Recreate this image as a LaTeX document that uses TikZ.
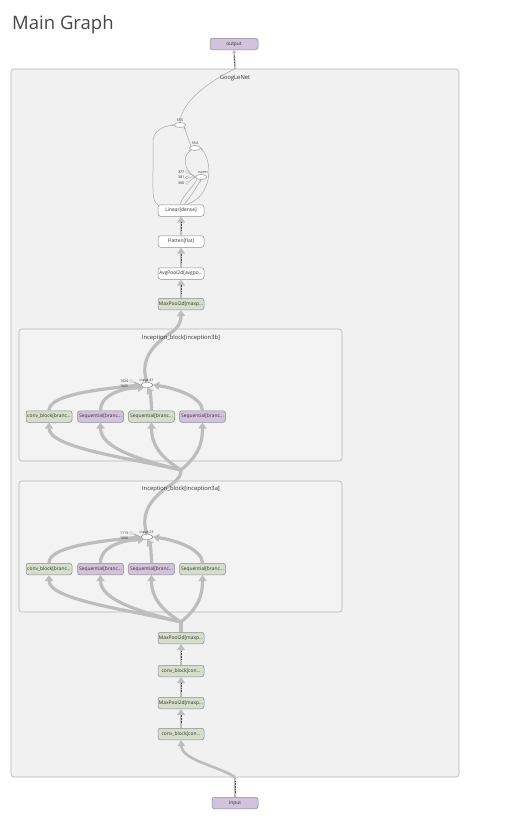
\documentclass[tikz,border=0pt]{standalone}
\usepackage{fontspec}
\setmainfont{Open Sans}
\usetikzlibrary{arrows.meta,calc,shapes.geometric}
\definecolor{outerfill}{HTML}{F1F1F1}
\definecolor{innerfill}{HTML}{F3F3F3}
\definecolor{boxline}{HTML}{B4B4B4}
\definecolor{opgreen}{HTML}{D5DECB}
\definecolor{oppurple}{HTML}{D3C2DC}
\definecolor{flow}{HTML}{BDBDBD}
\definecolor{thinflow}{HTML}{A8A8A8}
\definecolor{txt}{HTML}{333333}
\tikzset{
  groupbox/.style={draw=boxline, line width=0.6pt, rounded corners=3pt},
  opnode/.style={draw=black!45, line width=0.5pt, rounded corners=2.5pt, minimum width=46pt,
    minimum height=11.5pt, inner sep=0pt, font=\fontsize{4.9}{5}\selectfont, text=txt},
  greenop/.style={opnode, fill=opgreen},
  purpleop/.style={opnode, fill=oppurple},
  whiteop/.style={opnode, fill=white},
  concat/.style={ellipse, draw=black!50, fill=white, line width=0.4pt, minimum width=12pt,
    minimum height=5pt, inner sep=0pt},
  tiny/.style={font=\fontsize{3.6}{4}\selectfont, text=txt, inner sep=0.5pt},
  grouplabel/.style={font=\fontsize{5.8}{6}\selectfont, text=txt},
  bigflow/.style={draw=flow, line width=3.2pt, -{Triangle[length=6pt,width=8pt]}},
  chainflow/.style={draw=flow, line width=2.6pt, -{Triangle[length=6pt,width=7.5pt]}},
  thin/.style={draw=thinflow, line width=0.5pt},
  thinarrow/.style={thin, -{Stealth[length=2.5pt,width=2pt]}},
  shapemark/.style={draw=black!70, line width=0.9pt, dash pattern=on 0.8pt off 0.8pt},
  smallcirc/.style={circle, draw=black!45, fill=white, line width=0.3pt, minimum size=3pt, inner sep=0pt}
}
\begin{document}
\begin{tikzpicture}[x=1pt,y=-1pt]
\useasboundingbox[fill=white] (0,0) rectangle (532,827);

% title
\node[anchor=base west, inner sep=0, font=\fontsize{18.5}{20}\selectfont, text=black!72] (title) at (12,29.5) {Main Graph};

% outer group
\draw[groupbox, fill=outerfill] (11,69) rectangle (459,777);
\node[grouplabel] (glabel) at (235,78) {GoogLeNet};

% inception groups
\draw[groupbox, fill=innerfill] (19,329) rectangle (342,461);
\draw[groupbox, fill=innerfill] (19,481) rectangle (342,612);

% terminal nodes
\node[purpleop, minimum width=48pt] (output) at (234,44) {output};
\node[purpleop, minimum width=46pt] (input) at (235,803) {Input};

% chain nodes
\node[whiteop] (linear) at (181,210.5) {Linear[dense]};
\node[whiteop] (flatten) at (181,241.5) {Flatten[flat]};
\node[whiteop] (avgpool) at (181,273.5) {AvgPool2d[avgpo...};
\node[greenop] (mp4) at (181,304) {MaxPool2d[maxp...};

\node[greenop] (mp3) at (181,638) {MaxPool2d[maxp...};
\node[greenop] (cb2) at (181,671) {conv\_block[con...};
\node[greenop] (mp2) at (181,703) {MaxPool2d[maxp...};
\node[greenop] (cb1) at (181,734) {conv\_block[con...};

% inception 3b branches
\node[greenop] (b1) at (49,416.5) {conv\_block[branc...};
\node[purpleop] (b2) at (100.5,416.5) {Sequential[branc...};
\node[greenop] (b3) at (151.5,416.5) {Sequential[branc...};
\node[purpleop] (b4) at (202.5,416.5) {Sequential[branc...};
\node[concat] (cat3b) at (147,385) {};
\node[smallcirc] (k3b) at (131,381) {};

% inception 3a branches
\node[greenop] (a1) at (49,569) {conv\_block[branc...};
\node[purpleop] (a2) at (100.5,569) {Sequential[branc...};
\node[purpleop] (a3) at (151.5,569) {Sequential[branc...};
\node[greenop] (a4) at (202.5,569) {Sequential[branc...};
\node[concat] (cat3a) at (147,537) {};
\node[smallcirc] (k3a) at (131,533) {};

% fan points
\coordinate (f3b) at (181,470);
\coordinate (f3a) at (181,622);
\coordinate (gtop) at (235,69);
\coordinate (gbot) at (235,777);

% loop ops at top of GoogLeNet
\node[concat, minimum width=11pt] (n555) at (180,125) {};
\node[tiny, anchor=south] (n555l) at (180,122) {555};
\node[concat, minimum width=11pt] (n554) at (195,148) {};
\node[tiny, anchor=south] (n554l) at (195,145) {554};
\node[concat, minimum width=11pt] (norm) at (201,177) {};
\node[tiny, anchor=south] (norml) at (203,174) {norm};
\node[smallcirc] (c377) at (187,172) {};
\node[smallcirc] (c381) at (187,177.5) {};
\node[smallcirc] (c380) at (187,183) {};
\node[tiny, anchor=east] (c377l) at (185,172) {377};
\node[tiny, anchor=east] (c381l) at (185,177.5) {381};
\node[tiny, anchor=east] (c380l) at (185,183) {380};

% ---------- connectors ----------
% output
\draw[thin, line width=1.6pt, draw=flow, -{Triangle[length=3pt,width=4pt]}] (gtop) -- (output.south);
\draw[shapemark] ($(gtop)!0.15!(output.south)$) -- ($(gtop)!0.7!(output.south)$);
\draw[thin] (n555.north) .. controls (181,100) and (215,78) .. (gtop);

% loop
\draw[thinarrow] (linear.north west) .. controls (152,202) and (153,190) .. (153,170)
   -- (153,142) .. controls (153,131) and (163,126) .. (n555.west);
\draw[thinarrow] (n554.north west) -- (n555.south east);
\draw[thinarrow] ([xshift=6pt]linear.north) .. controls (213,195) and (213,162) .. (n554.east);
\draw[thinarrow] (norm.west) .. controls (183,170) and (183,156) .. (n554.south west);
\draw[thinarrow] ([xshift=3pt]linear.north) .. controls (192,195) and (197,186) .. (norm.south);
\draw[thin] (c377) -- (norm.west);
\draw[thin] (c381) -- (norm.west);
\draw[thin] (c380) -- (norm.west);
\draw[thin] ([xshift=-1pt]linear.north) .. controls (183,195) and (195,185) .. (norm.south west);

% chain top
\foreach \a/\b in {linear/flatten, flatten/avgpool, avgpool/mp4} {
  \draw[chainflow] (\b.north) -- (\a.south);
  \draw[shapemark] ($(\b.north)!0.25!(\a.south)$) -- ($(\b.north)!0.7!(\a.south)$);
}
% chain bottom
\foreach \a/\b in {mp3/cb2, cb2/mp2, mp2/cb1} {
  \draw[chainflow] (\b.north) -- (\a.south);
  \draw[shapemark] ($(\b.north)!0.25!(\a.south)$) -- ($(\b.north)!0.7!(\a.south)$);
}

% input
\draw[draw=flow, line width=1.6pt] (input.north) -- (gbot);
\draw[shapemark] ($(input.north)!0.2!(gbot)$) -- ($(input.north)!0.8!(gbot)$);
\draw[chainflow] (gbot) .. controls (215,765) and (182,760) .. (cb1.south);

% inception 3b output to MaxPool
\draw[bigflow] (cat3b.north) .. controls (140,362) and (150,346) .. (172,332)
   .. controls (180,326) and (181,320) .. (mp4.south);
% branches to concat 3b
\draw[bigflow] (b1.north) .. controls (49,396) and (90,390) .. (cat3b.west);
\draw[bigflow] (b2.north) .. controls (100,396) and (120,388) .. ([xshift=-3pt]cat3b.south);
\draw[bigflow] (b3.north) .. controls (151.5,400) and (150,392) .. (cat3b.south);
\draw[bigflow] (b4.north) .. controls (202,397) and (175,388) .. (cat3b.east);
% fan 3b
\draw[bigflow] (f3b) .. controls (130,458) and (49,448) .. (b1.south);
\draw[bigflow] (f3b) .. controls (140,460) and (100.5,448) .. (b2.south);
\draw[bigflow] (f3b) .. controls (165,460) and (151.5,448) .. (b3.south);
\draw[bigflow] (f3b) .. controls (195,458) and (202.5,448) .. (b4.south);

% inception 3a output to fan 3b
\draw[draw=flow, line width=3.2pt] (cat3a.north) .. controls (140,514) and (150,498) .. (172,484)
   .. controls (180,478) and (181,474) .. (f3b);
% branches to concat 3a
\draw[bigflow] (a1.north) .. controls (49,548) and (90,542) .. (cat3a.west);
\draw[bigflow] (a2.north) .. controls (100,548) and (120,540) .. ([xshift=-3pt]cat3a.south);
\draw[bigflow] (a3.north) .. controls (151.5,552) and (150,544) .. (cat3a.south);
\draw[bigflow] (a4.north) .. controls (202,549) and (175,540) .. (cat3a.east);
% fan 3a
\draw[draw=flow, line width=3.2pt] (mp3.north) -- (f3a);
\draw[bigflow] (f3a) .. controls (130,610) and (49,600) .. (a1.south);
\draw[bigflow] (f3a) .. controls (140,612) and (100.5,600) .. (a2.south);
\draw[bigflow] (f3a) .. controls (165,612) and (151.5,600) .. (a3.south);
\draw[bigflow] (f3a) .. controls (195,610) and (202.5,600) .. (a4.south);

% small inputs to concat
\draw[thin] (k3b) -- (cat3b.west);
\draw[thin] (k3a) -- (cat3a.west);

% labels drawn above the flows
\node[grouplabel] (l3b) at (181,338) {Inception\_block[inception3b]};
\node[grouplabel] (l3a) at (181,489) {Inception\_block[inception3a]};
\node[tiny, anchor=south west] (cat3bl) at (139,383) {input.41};
\node[tiny, anchor=east] (k3bl1) at (129,381) {1024};
\node[tiny, anchor=east] (k3bl2) at (129,386) {1025};
\node[tiny, anchor=south west] (cat3al) at (139,535) {input.25};
\node[tiny, anchor=east] (k3al1) at (129,533) {1113};
\node[tiny, anchor=east] (k3al2) at (129,538) {1056};
\end{tikzpicture}
\end{document}
